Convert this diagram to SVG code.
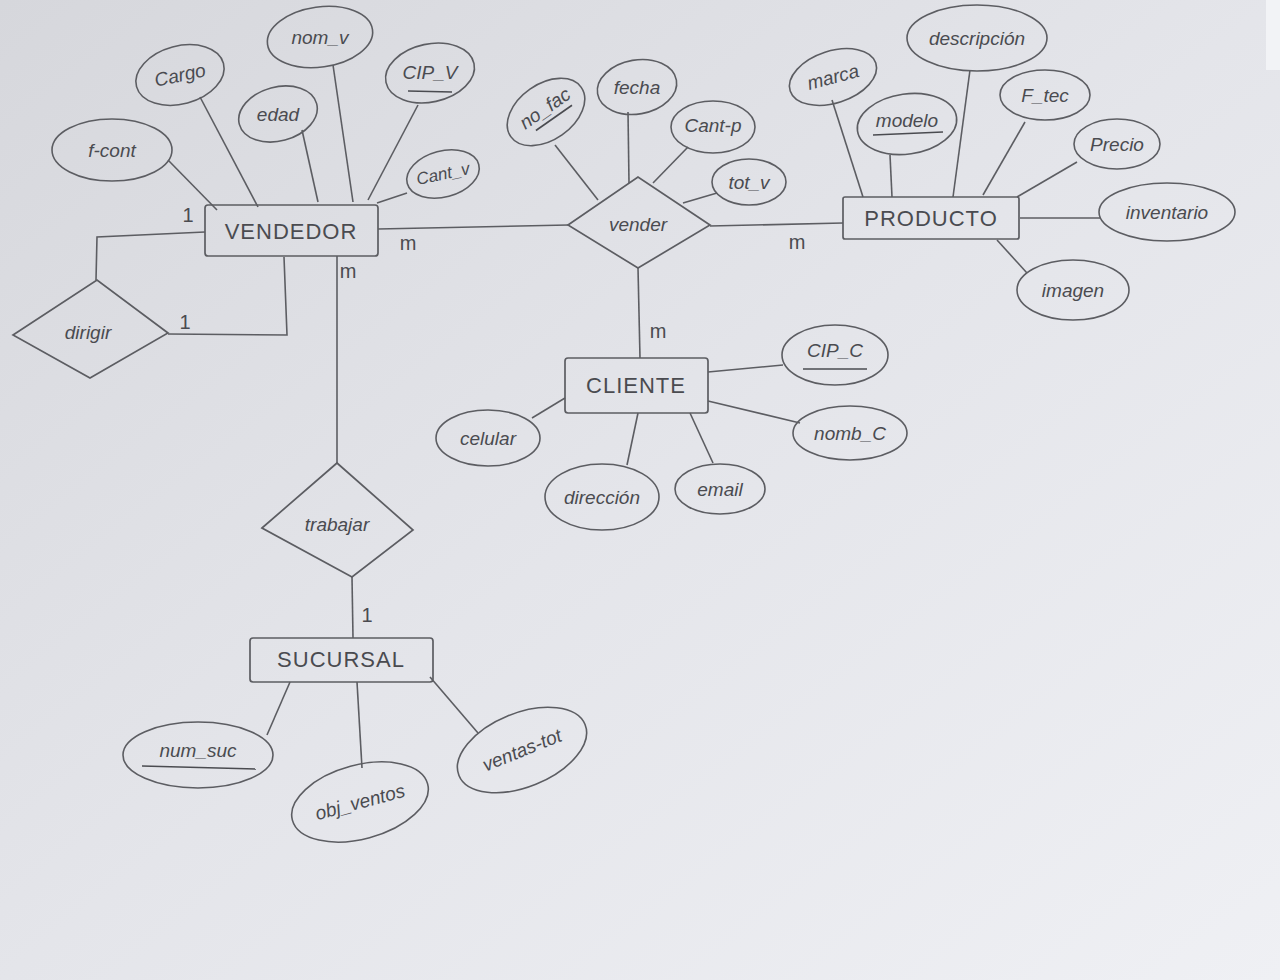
<svg xmlns="http://www.w3.org/2000/svg" width="1280" height="980" viewBox="0 0 1280 980">
<defs>
<linearGradient id="paper" x1="0" y1="0" x2="1" y2="1">
<stop offset="0" stop-color="#d6d7dc"/>
<stop offset="0.5" stop-color="#e4e5ea"/>
<stop offset="1" stop-color="#eff0f4"/>
</linearGradient>
<style>
.ln{stroke:#5c5d62;stroke-width:1.6;fill:none}
.ent{fill:none;stroke:#5c5d62;stroke-width:1.7}
.rel{fill:none;stroke:#5c5d62;stroke-width:1.7}
.att{fill:none;stroke:#5c5d62;stroke-width:1.6}
.t{font-family:"Liberation Sans",Arial,sans-serif;fill:#4a4b50;text-anchor:middle;dominant-baseline:central}
.et{font-size:22px;letter-spacing:1px}
.at{font-size:19px;font-style:italic}
.card{font-family:"Liberation Sans",Arial,sans-serif;fill:#4a4b50;font-size:20px;text-anchor:middle}
.u{stroke:#4a4b50;stroke-width:1.6}
</style>
</defs>
<rect width="1280" height="980" fill="url(#paper)"/>
<rect x="1266" y="0" width="14" height="70" fill="#f2f3f6"/>

<g id="connectors">
<line class="ln" x1="378" y1="229" x2="568" y2="225"/>
<line class="ln" x1="710" y1="226" x2="843" y2="223"/>
<line class="ln" x1="638" y1="268" x2="640" y2="358"/>
<line class="ln" x1="337" y1="256" x2="337" y2="463"/>
<line class="ln" x1="352" y1="577" x2="353" y2="638"/>
<polyline class="ln" points="205,232 97,237 96,280"/>
<polyline class="ln" points="168,334 287,335 284,257"/>
<text class="card" x="188" y="222">1</text>
<text class="card" x="185" y="329">1</text>
<text class="card" x="408" y="250">m</text>
<text class="card" x="797" y="249">m</text>
<text class="card" x="658" y="338">m</text>
<text class="card" x="348" y="278">m</text>
<text class="card" x="367" y="622">1</text>
<line class="ln" x1="168" y1="160" x2="217" y2="210"/>
<line class="ln" x1="200" y1="97" x2="258" y2="207"/>
<line class="ln" x1="302" y1="130" x2="318" y2="202"/>
<line class="ln" x1="333" y1="65" x2="353" y2="202"/>
<line class="ln" x1="418" y1="105" x2="368" y2="200"/>
<line class="ln" x1="407" y1="193" x2="377" y2="203"/>
<line class="ln" x1="555" y1="145" x2="598" y2="200"/>
<line class="ln" x1="628" y1="112" x2="629" y2="183"/>
<line class="ln" x1="688" y1="147" x2="653" y2="183"/>
<line class="ln" x1="717" y1="193" x2="683" y2="203"/>
<line class="ln" x1="832" y1="100" x2="863" y2="197"/>
<line class="ln" x1="890" y1="155" x2="892" y2="197"/>
<line class="ln" x1="970" y1="70" x2="953" y2="197"/>
<line class="ln" x1="1025" y1="122" x2="983" y2="195"/>
<line class="ln" x1="1077" y1="162" x2="1017" y2="197"/>
<line class="ln" x1="1020" y1="218" x2="1100" y2="218"/>
<line class="ln" x1="997" y1="240" x2="1027" y2="273"/>
<line class="ln" x1="708" y1="372" x2="783" y2="365"/>
<line class="ln" x1="708" y1="401" x2="800" y2="423"/>
<line class="ln" x1="532" y1="418" x2="565" y2="398"/>
<line class="ln" x1="627" y1="465" x2="638" y2="413"/>
<line class="ln" x1="713" y1="463" x2="690" y2="413"/>
<line class="ln" x1="290" y1="682" x2="267" y2="735"/>
<line class="ln" x1="357" y1="682" x2="362" y2="768"/>
<line class="ln" x1="430" y1="677" x2="478" y2="733"/>
</g>

<g id="VENDEDOR">
<rect class="ent" x="205" y="205" width="173" height="51" rx="3"/>
<text class="t et" x="291" y="231">VENDEDOR</text>
</g>
<g id="PRODUCTO">
<rect class="ent" x="843" y="197" width="176" height="42" rx="2"/>
<text class="t et" x="931" y="218">PRODUCTO</text>
</g>
<g id="CLIENTE">
<rect class="ent" x="565" y="358" width="143" height="55" rx="3"/>
<text class="t et" x="636" y="385">CLIENTE</text>
</g>
<g id="SUCURSAL">
<rect class="ent" x="250" y="638" width="183" height="44" rx="3"/>
<text class="t et" x="341" y="659">SUCURSAL</text>
</g>

<g id="vender">
<polygon class="rel" points="568,225 638,177 710,225 638,268"/>
<text class="t at" x="638" y="224">vender</text>
</g>
<g id="dirigir">
<polygon class="rel" points="13,335 97,280 168,333 90,378"/>
<text class="t at" x="88" y="332">dirigir</text>
</g>
<g id="trabajar">
<polygon class="rel" points="262,528 337,463 413,530 352,577"/>
<text class="t at" x="337" y="524">trabajar</text>
</g>

<g id="f_cont">
<ellipse class="att" cx="112" cy="150" rx="60" ry="31"/>
<text class="t at" x="112" y="150">f-cont</text>
</g>
<g id="Cargo">
<ellipse class="att" cx="180" cy="75" rx="45" ry="29" transform="rotate(-15 180 75)"/>
<text class="t at" x="180" y="75" transform="rotate(-12 180 75)">Cargo</text>
</g>
<g id="edad">
<ellipse class="att" cx="278" cy="114" rx="40" ry="27" transform="rotate(-15 278 114)"/>
<text class="t at" x="278" y="114">edad</text>
</g>
<g id="nom_v">
<ellipse class="att" cx="320" cy="37" rx="53" ry="30" transform="rotate(-8 320 37)"/>
<text class="t at" x="320" y="37">nom_v</text>
</g>
<g id="CIP_V">
<ellipse class="att" cx="430" cy="73" rx="45" ry="29" transform="rotate(-12 430 73)"/>
<text class="t at" x="430" y="72">CIP_V</text>
<line class="u" x1="408" y1="91" x2="452" y2="92"/>
</g>
<g id="cant_v">
<ellipse class="att" cx="443" cy="174" rx="37" ry="23" transform="rotate(-15 443 174)"/>
<text class="t at" x="443" y="174" transform="rotate(-12 443 174)" style="font-size:17px">Cant_v</text>
</g>

<g id="no_fac">
<ellipse class="att" cx="546" cy="112" rx="43" ry="28" transform="rotate(-35 546 112)"/>
<g transform="rotate(-35 546 110)">
<text class="t at" x="546" y="108">no_fac</text>
<line class="u" x1="526" y1="121" x2="570" y2="121"/>
</g>
</g>
<g id="fecha">
<ellipse class="att" cx="637" cy="87" rx="40" ry="27" transform="rotate(-10 637 87)"/>
<text class="t at" x="637" y="87">fecha</text>
</g>
<g id="cant_p">
<ellipse class="att" cx="713" cy="127" rx="42" ry="26"/>
<text class="t at" x="713" y="125">Cant-p</text>
</g>
<g id="tot_v">
<ellipse class="att" cx="749" cy="182" rx="37" ry="23"/>
<text class="t at" x="749" y="182">tot_v</text>
</g>

<g id="marca">
<ellipse class="att" cx="833" cy="77" rx="45" ry="26" transform="rotate(-18 833 77)"/>
<text class="t at" x="833" y="77" transform="rotate(-15 833 77)">marca</text>
</g>
<g id="modelo">
<ellipse class="att" cx="907" cy="124" rx="50" ry="30" transform="rotate(-8 907 124)"/>
<text class="t at" x="907" y="120">modelo</text>
<line class="u" x1="873" y1="135" x2="943" y2="132"/>
</g>
<g id="descripcion">
<ellipse class="att" cx="977" cy="38" rx="70" ry="33"/>
<text class="t at" x="977" y="38">descripción</text>
</g>
<g id="F_tec">
<ellipse class="att" cx="1045" cy="95" rx="45" ry="25"/>
<text class="t at" x="1045" y="95">F_tec</text>
</g>
<g id="Precio">
<ellipse class="att" cx="1117" cy="144" rx="43" ry="25"/>
<text class="t at" x="1117" y="144">Precio</text>
</g>
<g id="inventario">
<ellipse class="att" cx="1167" cy="212" rx="68" ry="29"/>
<text class="t at" x="1167" y="212">inventario</text>
</g>
<g id="imagen">
<ellipse class="att" cx="1073" cy="290" rx="56" ry="30"/>
<text class="t at" x="1073" y="290">imagen</text>
</g>

<g id="CIP_C">
<ellipse class="att" cx="835" cy="355" rx="53" ry="30"/>
<text class="t at" x="835" y="350">CIP_C</text>
<line class="u" x1="803" y1="369" x2="867" y2="369"/>
</g>
<g id="nomb_C">
<ellipse class="att" cx="850" cy="433" rx="57" ry="27"/>
<text class="t at" x="850" y="433">nomb_C</text>
</g>
<g id="celular">
<ellipse class="att" cx="488" cy="438" rx="52" ry="28"/>
<text class="t at" x="488" y="438">celular</text>
</g>
<g id="direccion">
<ellipse class="att" cx="602" cy="497" rx="57" ry="33"/>
<text class="t at" x="602" y="497">dirección</text>
</g>
<g id="email">
<ellipse class="att" cx="720" cy="489" rx="45" ry="25"/>
<text class="t at" x="720" y="489">email</text>
</g>

<g id="num_suc">
<ellipse class="att" cx="198" cy="755" rx="75" ry="33"/>
<text class="t at" x="198" y="750">num_suc</text>
<line class="u" x1="142" y1="766" x2="256" y2="769"/>
</g>
<g id="obj_ventos">
<ellipse class="att" cx="360" cy="802" rx="70" ry="37" transform="rotate(-15 360 802)"/>
<text class="t at" x="360" y="802" transform="rotate(-15 360 802)">obj_ventos</text>
</g>
<g id="ventas_tot">
<ellipse class="att" cx="522" cy="750" rx="68" ry="37" transform="rotate(-22 522 750)"/>
<text class="t at" x="522" y="750" transform="rotate(-22 522 750)">ventas-tot</text>
</g>
</svg>
